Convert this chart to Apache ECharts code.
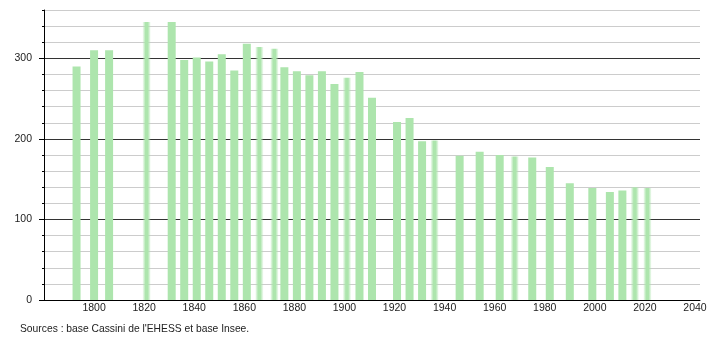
<!DOCTYPE html>
<html>
<head>
<meta charset="utf-8">
<script src="https://cdn.jsdelivr.net/npm/echarts@6/dist/echarts.min.js"></script>
<style>
html,body{margin:0;padding:0;background:#fff;}
#chart{width:710px;height:340px;}
</style>
</head>
<body>
<div id="chart"></div>
<script>
// Census years and population values
var years = [1793, 1800, 1806, 1821, 1831, 1836, 1841, 1846, 1851, 1856,
             1861, 1866, 1872, 1876, 1881, 1886, 1891, 1896, 1901, 1906,
             1911, 1921, 1926, 1931, 1936, 1946, 1954, 1962, 1968, 1975,
             1982, 1990, 1999, 2006, 2011, 2016, 2021];
var population = [290, 310, 310, 345, 345, 298, 301, 296, 305, 285,
                  318, 314, 312, 289, 284, 279, 284, 268, 276, 283,
                  251, 221, 226, 197, 198, 179, 184, 180, 178, 177,
                  165, 145, 139, 134, 136, 140, 139];
var xTickLabels = [1800, 1820, 1840, 1860, 1880, 1900, 1920, 1940, 1960, 1980, 2000, 2020, 2040];
var yTickLabels = [0, 100, 200, 300];
var sourceText = "Sources : base Cassini de l'EHESS et base Insee.";

// years drawn with soft (blurred) edges in the original
var softYears = [1821, 1866, 1872, 1901, 1936, 1968, 2016, 2021];

var solid = '#ade5ad';
function softFill() {
  return new echarts.graphic.LinearGradient(0, 0, 1, 0, [
    {offset: 0, color: 'rgba(173,229,173,0.1)'},
    {offset: 0.35, color: 'rgba(173,229,173,1)'},
    {offset: 0.65, color: 'rgba(173,229,173,1)'},
    {offset: 1, color: 'rgba(173,229,173,0.1)'}
  ]);
}

var data = years.map(function (y, i) {
  var d = {value: [y, population[i]]};
  if (softYears.indexOf(y) >= 0) {
    d.itemStyle = {color: softFill()};
  }
  return d;
});

var chart = echarts.init(document.getElementById('chart'), null, {renderer: 'canvas'});
var font = 'Liberation Sans, Arial, sans-serif';
chart.setOption({
  animation: false,
  grid: {left: 44, right: 10, top: 10, bottom: 40, containLabel: false},
  graphic: [{
    type: 'text', left: 20, top: 324,
    style: {text: sourceText, fill: '#222', font: '10.3px ' + font}
  }],
  xAxis: {
    type: 'value', min: 1780, max: 2042, interval: 20,
    axisLine: {show: true, lineStyle: {color: '#000', width: 1}},
    axisTick: {show: false},
    splitLine: {show: false},
    axisLabel: {
      customValues: xTickLabels,
      formatter: function (v) { return String(v); },
      color: '#222', fontFamily: font, fontSize: 10.5, margin: 3
    }
  },
  yAxis: [{
    type: 'value', min: 0, max: 360, interval: 20,
    axisLine: {show: true, lineStyle: {color: '#000', width: 1}},
    axisTick: {show: true, length: 2, lineStyle: {color: '#000'}},
    splitLine: {show: true, lineStyle: {color: ['#333', '#ccc', '#ccc', '#ccc', '#ccc'], width: 1}},
    axisLabel: {
      customValues: yTickLabels,
      formatter: function (v) { return String(v); },
      color: '#222', fontFamily: font, fontSize: 10.5, margin: 12
    }
  }, {
    type: 'value', min: 0, max: 360, position: 'left',
    axisLine: {show: false},
    axisTick: {show: true, length: 5, customValues: yTickLabels, lineStyle: {color: '#000'}},
    splitLine: {show: false},
    axisLabel: {show: false}
  }],
  series: [{
    type: 'bar',
    data: data,
    barWidth: 8,
    itemStyle: {color: solid},
    z: 2
  }]
});
</script>
</body>
</html>
